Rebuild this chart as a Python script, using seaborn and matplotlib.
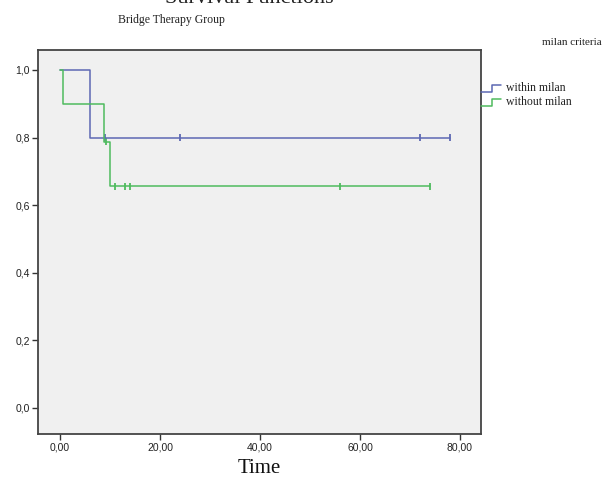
import numpy as np
import pandas as pd
import matplotlib
matplotlib.use("Agg")
import matplotlib.pyplot as plt
from matplotlib.lines import Line2D
import seaborn as sns

# ---- data ----
groups = ["within milan", "without milan"]
within_time = [0.0, 6.0, 78.0]
within_surv = [1.0, 0.8, 0.8]
within_censor = [9.0, 24.0, 72.0, 78.0]
without_time = [0.0, 0.7, 8.8, 10.0, 74.0]
without_surv = [1.0, 0.9, 0.7875, 0.656, 0.656]
without_censor = [9.2, 11.0, 13.0, 14.0, 56.0, 74.0]
x_ticks = [0, 20, 40, 60, 80]
x_tick_labels = ["0,00", "20,00", "40,00", "60,00", "80,00"]
y_ticks = [0.0, 0.2, 0.4, 0.6, 0.8, 1.0]
y_tick_labels = ["0,0", "0,2", "0,4", "0,6", "0,8", "1,0"]

colors = {"within milan": "#5d68b3", "without milan": "#4fbb5e"}

def step_value(times, surv, t):
    idx = np.searchsorted(times, t, side="right") - 1
    return np.asarray(surv)[idx]

curve = pd.DataFrame({
    "time": within_time + without_time,
    "surv": within_surv + without_surv,
    "group": [groups[0]] * len(within_time) + [groups[1]] * len(without_time),
})
cens = pd.DataFrame({
    "time": within_censor + without_censor,
    "surv": list(step_value(within_time, within_surv, within_censor))
            + list(step_value(without_time, without_surv, without_censor)),
    "group": [groups[0]] * len(within_censor) + [groups[1]] * len(without_censor),
})

sns.set_style("white")
fig = plt.figure(figsize=(6.07, 4.78), dpi=100)
ax = fig.add_axes([0.0626, 0.092, 0.7298, 0.8033])
ax.set_facecolor("#f0f0f0")

sns.lineplot(data=curve, x="time", y="surv", hue="group", palette=colors,
             drawstyle="steps-post", estimator=None, sort=False,
             linewidth=1.1, legend=False, ax=ax)
sns.scatterplot(data=cens, x="time", y="surv", hue="group", palette=colors,
                marker="|", s=28, linewidth=1.3, legend=False, ax=ax)

ax.set_xlim(-4.4, 84.2)
ax.set_ylim(-0.077, 1.059)
ax.set_xticks(x_ticks)
ax.set_xticklabels(x_tick_labels)
ax.set_yticks(y_ticks)
ax.set_yticklabels(y_tick_labels)
ax.tick_params(axis="both", which="both", direction="out", length=4, width=1,
               color="#333333", labelsize=7.5, labelcolor="#222222", pad=2,
               left=True, bottom=True)
for lab in ax.get_xticklabels() + ax.get_yticklabels():
    lab.set_family("Liberation Sans")
for s in ax.spines.values():
    s.set_color("#444444")
    s.set_linewidth(1.3)
ax.set_ylabel("")
ax.set_xlabel("Time", family="Liberation Serif", fontsize=15, color="#111111", labelpad=5)

# titles (the top one is cut off by the image edge, as in the reference)
fig.text(0.41, 1 - 3 / 478, "Survival Functions", family="Liberation Serif", fontsize=16,
         ha="center", va="baseline", color="#222222")
fig.text(0.283, 0.958, "Bridge Therapy Group", family="Liberation Serif", fontsize=8.5,
         ha="center", va="center", color="#222222")

# legend (step-shaped handles)
fig.text(0.942, 0.911, "milan criteria", family="Liberation Serif", fontsize=8,
         ha="center", va="center", color="#222222")
for i, g in enumerate(groups):
    yc = 1 - (88 + i * 14) / 478
    xs = np.array([481, 492, 492, 501]) / 607
    ys = np.array([yc - 4 / 478, yc - 4 / 478, yc + 3 / 478, yc + 3 / 478])
    fig.add_artist(Line2D(xs, ys, color=colors[g], linewidth=1.1))
    fig.text(506 / 607, yc, g, family="Liberation Serif", fontsize=8.5,
             ha="left", va="center", color="#222222")

fig.savefig("out.png", dpi=100)
